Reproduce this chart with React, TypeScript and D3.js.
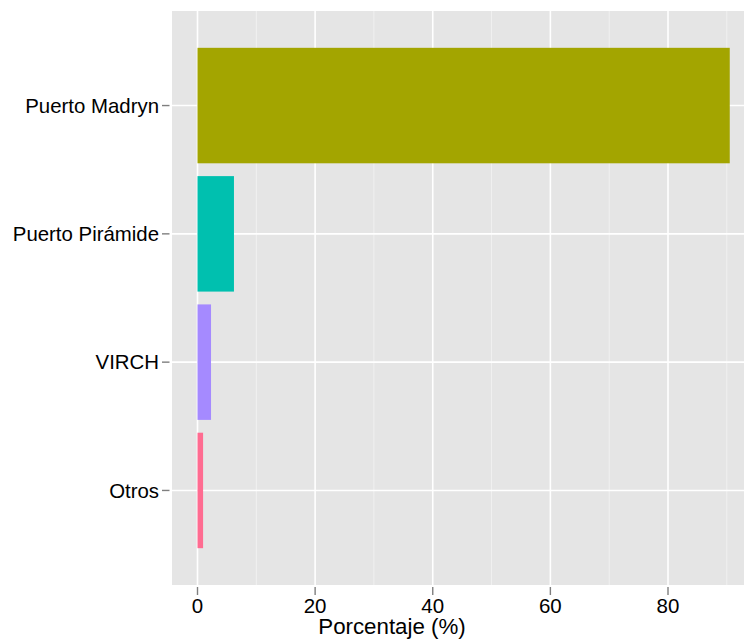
import React from "react";
import * as d3 from "d3";

const categories = ["Puerto Madryn", "Puerto Pirámide", "VIRCH", "Otros"];
const values = [90.5, 6.2, 2.3, 0.95];
const colors = ["#A3A500", "#00C0AF", "#A58AFF", "#FF6C91"];
const majorTicks = [0, 20, 40, 60, 80];
const minorTicks = [10, 30, 50, 70, 90];
const xTitle = "Porcentaje (%)";

const W = 744;
const H = 641;
const panelLeft = 172;
const panelTop = 11;
const panelBottom = 585;
const panelRight = 760;
const FONT = "'Liberation Sans', Arial, Helvetica, sans-serif";

export default function App() {
  const x = d3.scaleLinear().domain([0, 80]).range([197.5, 668]);
  const y = d3.scalePoint<string>().domain(categories).range([panelTop, panelBottom]).padding(0.737);
  const step = y.step();
  const bh = step * 0.9;

  return (
    <svg width={W} height={H} style={{ position: "absolute", left: 0, top: 0 }}>
      <rect x={panelLeft} y={panelTop} width={panelRight - panelLeft} height={panelBottom - panelTop} fill="#E5E5E5" />
      {minorTicks.map((t) => (
        <line key={"mi" + t} x1={x(t)} x2={x(t)} y1={panelTop} y2={panelBottom} stroke="#F2F2F2" strokeWidth={0.9} />
      ))}
      {majorTicks.map((t) => (
        <line key={"ma" + t} x1={x(t)} x2={x(t)} y1={panelTop} y2={panelBottom} stroke="#FFFFFF" strokeWidth={1.6} />
      ))}
      {categories.map((c) => (
        <line key={"hy" + c} x1={panelLeft} x2={panelRight} y1={y(c)!} y2={y(c)!} stroke="#FFFFFF" strokeWidth={1.6} />
      ))}
      {categories.map((c, i) => (
        <rect key={"b" + c} x={x(0)} y={y(c)! - bh / 2} width={x(values[i]) - x(0)} height={bh} fill={colors[i]} />
      ))}
      {categories.map((c) => (
        <g key={"yl" + c}>
          <line x1={162} x2={169.5} y1={y(c)!} y2={y(c)!} stroke="#7F7F7F" strokeWidth={1.4} />
          <text x={159} y={y(c)! + 7.3} textAnchor="end" fontFamily={FONT} fontSize={20.4} fill="#000">
            {c}
          </text>
        </g>
      ))}
      {majorTicks.map((t) => (
        <g key={"xl" + t}>
          <line x1={x(t)} x2={x(t)} y1={587} y2={595} stroke="#7F7F7F" strokeWidth={1.4} />
          <text x={x(t)} y={612.5} textAnchor="middle" fontFamily={FONT} fontSize={20.5} fill="#000">
            {t}
          </text>
        </g>
      ))}
      <text x={392} y={634} textAnchor="middle" fontFamily={FONT} fontSize={22.3} fill="#000">
        {xTitle}
      </text>
    </svg>
  );
}
